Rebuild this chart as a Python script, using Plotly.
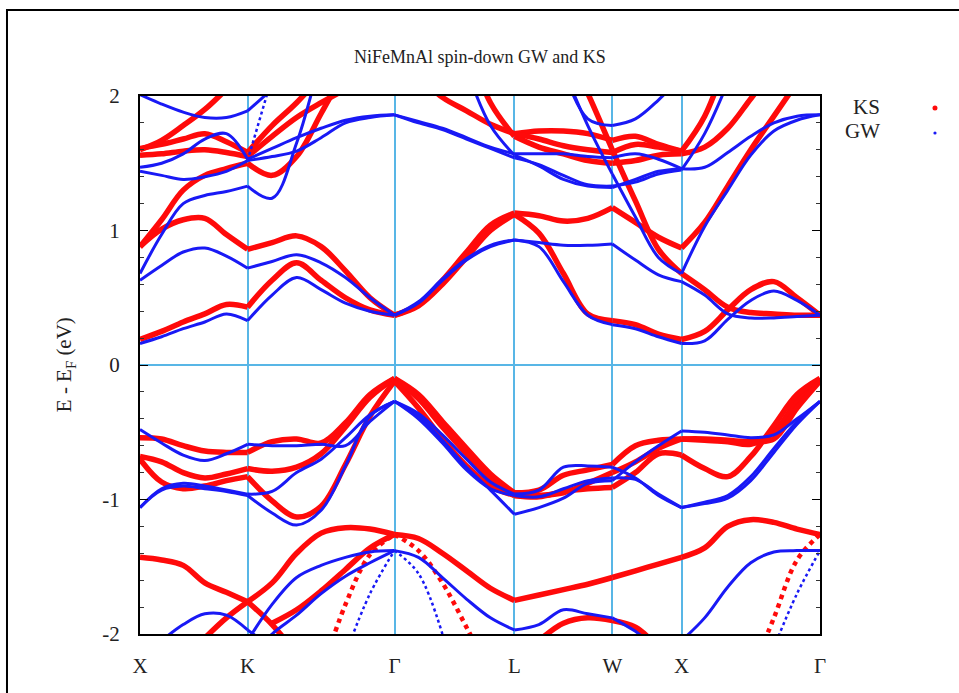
import plotly.graph_objects as go

N = None

# k-path sample positions (path length) and high-symmetry labels
K_GRID = [0.000, 0.156, 0.312, 0.468, 0.624, 0.777,
          0.954, 1.131, 1.308, 1.484, 1.661, 1.838,
          2.011, 2.184, 2.358, 2.531, 2.704,
          2.881, 3.058, 3.234, 3.411,
          3.578, 3.744, 3.911,
          4.078, 4.245, 4.411, 4.578, 4.745, 4.911]
SYM_K = [0.0, 0.777, 1.838, 2.704, 3.411, 3.911, 4.911]
SYM_LABELS = ["X", "K", "Γ", "L", "W", "X", "Γ"]
SEGMENTS = [(0, 5), (5, 11), (11, 16), (16, 20), (20, 23), (23, 29)]

Y_TICKS = [-2, -1, 0, 1, 2]
Y_TICK_TEXT = ["-2", "-1", "0", "1", "2"]

# ---------------- KS (red) bands, eV ----------------
KS_C1 = [0.19, 0.25, 0.32, 0.38, 0.45, 0.43, 0.63, 0.76, 0.63, 0.50, 0.41, 0.37,
         0.44, 0.60, 0.80, 1.00, 1.12, 0.98, 0.68, 0.38, 0.33, 0.30, 0.23, 0.19,
         0.25, 0.41, 0.56, 0.62, 0.50, 0.37]
KS_C2 = [0.88, 1.01, 1.08, 1.09, 0.97, 0.86, 0.91, 0.96, 0.88, 0.70, 0.50, 0.37,
         0.45, 0.63, 0.84, 1.04, 1.13, 1.11, 1.07, 1.09, 1.17, 1.06, 0.95, 0.87,
         1.06, 1.33, 1.60, 1.85, 2.10, 2.35]
KS_C3 = [0.88, 1.08, 1.30, 1.41, 1.46, 1.50, 1.41, 1.55, 1.87, 2.20, N, N,
         N, N, N, N, N, N, N, N, N, N, N, N, N, N, N, N, N, N]
KS_C4 = [N, N, N, N, N, N, N, N, N, N, N, N, N, N, N, N, N,
         N, 2.40, 2.02, 1.60, 1.22, 0.86, 0.68, 0.56, 0.43, 0.39, 0.38, 0.37, 0.37]
KS_U1 = [1.61, 1.64, 1.68, 1.72, 1.66, 1.58, 1.78, 1.95, 2.15, N, N, N,
         N, N, N, N, N, N, N, N, N, N, N, N, N, N, N, N, N, N]
KS_U2 = [1.56, 1.57, 1.59, 1.60, 1.58, 1.55, 1.70, 1.84, 1.95, 2.05, N, N,
         N, N, N, N, N, N, N, N, N, N, N, N, N, N, N, N, N, N]
KS_U3 = [1.60, 1.67, 1.78, 1.90, 2.05, 2.20, N, N, N, N, N, N,
         N, N, N, N, N, N, N, N, N, N, N, N, N, N, N, N, N, N]
KS_U4 = [N, N, N, N, N, N, N, N, N, N, N, N,
         2.15, 1.99, 1.89, 1.79, 1.72, 1.74, 1.74, 1.72, 1.67, 1.70, 1.64, 1.59,
         1.85, 2.30, N, N, N, N]
KS_U5 = [N, N, N, N, N, N, N, N, N, N, N, N,
         N, N, 2.40, 1.95, 1.70, 1.62, 1.57, 1.52, 1.50, 1.52, 1.56, 1.57,
         1.62, 1.76, 1.98, 2.20, N, N]
KS_U6 = [N, N, N, N, N, N, N, N, N, N, N, N,
         N, N, N, N, 1.72, 1.68, 1.63, 1.60, 1.58, 1.64, 1.62, 1.59,
         N, N, N, N, N, N]
KS_V1 = [-0.54, -0.55, -0.60, -0.64, -0.65, -0.65, -0.57, -0.55, -0.58, -0.43, -0.22, -0.10,
         -0.22, -0.42, -0.62, -0.81, -0.95, -0.93, -0.82, -0.78, -0.74, -0.60, -0.56, -0.55,
         -0.56, -0.57, -0.59, -0.50, -0.27, -0.10]
KS_V2 = [-0.68, -0.72, -0.80, -0.84, -0.81, -0.77, -0.79, -0.76, -0.66, -0.46, -0.24, -0.10,
         -0.25, -0.46, -0.66, -0.85, -0.97, -0.98, -0.94, -0.92, -0.91, -0.80, -0.66, -0.67,
         -0.77, -0.83, -0.68, -0.45, -0.22, -0.10]
KS_V3 = [-0.70, -0.87, -0.92, -0.90, -0.86, -0.83, -1.01, -1.13, -1.05, -0.74, -0.38, -0.12,
         -0.32, -0.55, -0.75, -0.90, -0.97, -0.97, -0.95, -0.88, -0.80, -0.72, -0.62, -0.55,
         -0.55, -0.56, -0.57, -0.55, -0.32, -0.12]
KS_L1 = [-1.43, -1.45, -1.49, -1.62, -1.69, -1.76, -1.93, -2.15, N, N, N, N,
         N, N, N, N, N, N, N, N, N, N, N, N, N, N, N, N, N, N]
KS_L2 = [N, N, N, -2.03, -1.88, -1.76, -1.62, -1.40, -1.25, -1.21, -1.22, -1.26,
         -1.29, -1.40, -1.53, -1.66, -1.75, -1.71, -1.67, -1.63, -1.58, -1.53, -1.48, -1.43,
         -1.36, -1.20, -1.15, -1.17, -1.22, -1.26]
KS_L3 = [N, N, N, N, N, N, -1.92, -1.82, -1.68, -1.52, -1.36, -1.26,
         N, N, N, N, N, N, N, N, N, N, N, N, N, N, N, N, N, N]
KS_L4 = [N, N, N, N, N, N, N, N, N, N, N, N, N, N, N, N, N,
         -2.05, -1.92, -1.88, -1.90, -1.95, -2.10, N, N, N, N, N, N, N]
KS_S1 = [N, N, N, N, N, N, N, N, -2.30, -1.78, -1.41, -1.26,
         N, N, N, N, N, N, N, N, N, N, N, N, N, N, N, N, N, N]
KS_S2 = [N, N, N, N, N, N, N, N, N, N, N, N, N, N, N, N, N, N, N, N, N, N, N, N,
         N, N, -2.30, -1.88, -1.45, -1.26]
KS_S3 = [N, N, N, N, N, N, N, N, N, N, N, -1.26,
         -1.38, -1.62, -1.95, -2.30, N, N, N, N, N, N, N, N, N, N, N, N, N, N]

# ---------------- GW (blue) bands, eV ----------------
GW_C1 = [0.16, 0.21, 0.27, 0.32, 0.38, 0.33, 0.52, 0.65, 0.56, 0.46, 0.40, 0.37,
         0.46, 0.63, 0.78, 0.88, 0.93, 0.88, 0.62, 0.37, 0.30, 0.27, 0.21, 0.16,
         0.18, 0.34, 0.48, 0.55, 0.48, 0.37]
GW_C2 = [0.63, 0.74, 0.84, 0.87, 0.81, 0.72, 0.77, 0.82, 0.76, 0.65, 0.50, 0.37,
         0.47, 0.64, 0.79, 0.89, 0.93, 0.91, 0.89, 0.89, 0.90, 0.78, 0.67, 0.62,
         0.52, 0.38, 0.35, 0.35, 0.36, 0.37]
GW_C3 = [0.68, 0.97, 1.20, 1.26, 1.29, 1.33, 1.24, 1.65, 2.30, N, N, N,
         N, N, N, N, N, N, N, N, N, N, N, N, N, N, N, N, N, N]
GW_C4 = [N, N, N, N, N, N, N, N, N, N, N, N, N, N, N, N, N,
         N, 2.20, 1.78, 1.42, 1.10, 0.80, 0.68, 1.03, 1.30, 1.56, 1.74, 1.82, 1.86]
GW_T1 = [2.01, 1.94, 1.88, 1.84, 1.84, 1.89, 2.05, N, N, N, N, N,
         N, N, N, N, N, N, N, N, N, N, N, N, N, N, N, N, N, N]
GW_T2 = [1.47, 1.50, 1.57, 1.68, 1.72, 1.53, 1.61, 1.69, 1.76, 1.82, 1.85, 1.86,
         N, N, N, N, N, N, N, N, N, N, N, N, N, N, N, N, N, N]
GW_T3 = [1.44, 1.41, 1.38, 1.40, 1.44, 1.52, 1.55, 1.59, 1.69, 1.80, 1.84, 1.86,
         N, N, N, N, N, N, N, N, N, N, N, N, N, N, N, N, N, N]
GW_U1 = [N, N, N, N, N, N, N, N, N, N, N, 1.86,
         1.81, 1.76, 1.69, 1.62, 1.57, 1.57, 1.57, 1.55, 1.54, 1.57, 1.53, 1.46,
         1.47, 1.58, 1.70, 1.80, 1.85, 1.86]
GW_U2 = [N, N, N, N, N, N, N, N, N, N, N, 1.86,
         1.80, 1.75, 1.68, 1.61, 1.54, 1.49, 1.41, 1.34, 1.33, 1.36, 1.42, 1.45,
         1.72, 2.10, N, N, N, N]
GW_U3 = [N, N, N, N, N, N, N, N, N, N, N, N,
         N, N, 2.20, 1.78, 1.56, 1.48, 1.38, 1.33, 1.32, 1.38, 1.44, 1.46,
         N, N, N, N, N, N]
GW_U4 = [N, N, N, N, N, N, N, N, N, N, N, N, N, N, N, N, N,
         N, 2.20, 1.83, 1.78, 1.83, 1.97, 2.15, N, N, N, N, N, N]
GW_T5 = [N, N, N, N, N, 1.52, 2.14, N, N, N, N, N,
         N, N, N, N, N, N, N, N, N, N, N, N, N, N, N, N, N, N]
GW_V1 = [-0.48, -0.58, -0.67, -0.71, -0.66, -0.59, -0.60, -0.60, -0.59, -0.60, -0.42, -0.27,
         -0.36, -0.52, -0.70, -0.87, -0.96, -0.93, -0.76, -0.75, -0.76, -0.84, -0.97, -1.06,
         -1.02, -0.97, -0.83, -0.62, -0.42, -0.27]
GW_V2 = [-1.06, -0.92, -0.88, -0.90, -0.93, -0.96, -0.94, -0.80, -0.70, -0.54, -0.37, -0.27,
         -0.38, -0.56, -0.76, -0.93, -1.11, -1.06, -0.99, -0.88, -0.86, -0.72, -0.60, -0.49,
         -0.50, -0.52, -0.54, -0.52, -0.40, -0.27]
GW_V3 = [-1.06, -0.93, -0.90, -0.92, -0.94, -0.97, -1.10, -1.19, -1.08, -0.75, -0.38, -0.27,
         -0.40, -0.58, -0.78, -0.92, -0.97, -0.98, -0.92, -0.86, -0.84, -0.85, -0.96, -1.06,
         -1.03, -0.99, -0.86, -0.65, -0.44, -0.27]
GW_L1 = [N, N, N, N, N, -2.05, -1.78, -1.58, -1.49, -1.43, -1.39, -1.38,
         -1.43, -1.58, -1.74, -1.88, -1.97, -1.93, -1.82, -1.85, -1.88, -1.98, -2.10, -2.05,
         -1.88, -1.65, -1.47, -1.39, -1.38, -1.38]
GW_L2 = [N, N, N, N, N, -2.20, -2.00, -1.86, -1.70, -1.57, -1.47, -1.38,
         N, N, N, N, N, N, N, N, N, N, N, N, N, N, N, N, N, N]
GW_L3 = [N, -2.05, -1.93, -1.85, -1.86, -1.97, -2.10, N, N, N, N, N,
         N, N, N, N, N, N, N, N, N, N, N, N, N, N, N, N, N, N]
GW_S1 = [N, N, N, N, N, N, N, N, N, -2.15, -1.70, -1.38,
         N, N, N, N, N, N, N, N, N, N, N, N, N, N, N, N, N, N]
GW_S2 = [N, N, N, N, N, N, N, N, N, N, N, N, N, N, N, N, N, N, N, N, N, N, N, N,
         N, N, N, -2.10, -1.70, -1.38]
GW_S3 = [N, N, N, N, N, N, N, N, N, N, N, -1.38,
         -1.55, -2.00, N, N, N, N, N, N, N, N, N, N, N, N, N, N, N, N]

KS_SOLID = [KS_C1, KS_C2, KS_C3, KS_C4, KS_U1, KS_U2, KS_U3, KS_U4, KS_U5, KS_U6,
            KS_V1, KS_V2, KS_V3, KS_L1, KS_L2, KS_L3, KS_L4]
KS_DOTTED = [KS_S1, KS_S2, KS_S3]
GW_SOLID = [GW_C1, GW_C2, GW_C3, GW_C4, GW_T1, GW_T2, GW_T3, GW_U1, GW_U2, GW_U3, GW_U4,
            GW_V1, GW_V2, GW_V3, GW_L1, GW_L2, GW_L3]
GW_DOTTED = [GW_T5, GW_S1, GW_S2, GW_S3]

RED = "rgb(255,10,10)"
BLUE = "rgb(25,25,245)"
GRIDC = "#58b6e6"
FONT = "Liberation Serif"


def segmented(band):
    xs, ys = [], []
    for a, b in SEGMENTS:
        for i in range(a, b + 1):
            xs.append(K_GRID[i])
            ys.append(band[i])
        xs.append(None)
        ys.append(None)
    return xs, ys


fig = go.Figure()


def add_band(band, color, width, dash="solid"):
    xs, ys = segmented(band)
    fig.add_trace(go.Scatter(x=xs, y=ys, mode="lines", connectgaps=False,
                             line=dict(color=color, width=width, shape="spline", dash=dash),
                             showlegend=False, hoverinfo="skip"))


for b in KS_SOLID:
    add_band(b, RED, 5.5)
for b in KS_DOTTED:
    add_band(b, RED, 4.5, "dot")
for b in GW_SOLID:
    add_band(b, BLUE, 3)
for b in GW_DOTTED:
    add_band(b, BLUE, 2.5, "dot")

minor_vals = [v / 10 for v in range(-18, 20, 2) if v % 10 != 0]

fig.update_layout(
    width=959, height=693,
    margin=dict(l=140, r=139, t=96, b=59),
    paper_bgcolor="white", plot_bgcolor="white",
    font=dict(family=FONT, size=20, color="#222"),
    xaxis=dict(range=[0, 4.911], tickmode="array", tickvals=SYM_K, ticktext=SYM_LABELS,
               showgrid=True, gridcolor=GRIDC, gridwidth=1.5, ticks="",
               showline=True, linecolor="black", linewidth=2, mirror=True,
               zeroline=False, ticklabelstandoff=12,
               tickfont=dict(family=FONT, size=21, color="#222")),
    yaxis=dict(range=[-2, 2], tickmode="array", tickvals=Y_TICKS, ticktext=Y_TICK_TEXT,
               ticks="inside", ticklen=8, tickwidth=1.2, tickcolor="black",
               minor=dict(tickmode="array", tickvals=minor_vals, ticks="inside",
                          ticklen=4, tickcolor="#333", showgrid=False),
               showgrid=False, zeroline=True, zerolinecolor=GRIDC, zerolinewidth=1.5,
               showline=True, linecolor="black", linewidth=2, mirror="ticks",
               ticklabelstandoff=14,
               tickfont=dict(family=FONT, size=21, color="#222")),
)

fig.add_annotation(text="NiFeMnAl spin-down GW and KS", xref="paper", yref="paper",
                   x=0.5, y=1.0725, xanchor="center", yanchor="middle", showarrow=False,
                   font=dict(family=FONT, size=18, color="#222"))
fig.add_annotation(text="E - E<sub>F</sub> (eV)", xref="paper", yref="paper",
                   x=-0.11, y=0.5, xanchor="center", yanchor="middle", textangle=-90,
                   showarrow=False, font=dict(family=FONT, size=21, color="#222"))
fig.add_annotation(text="KS", xref="paper", yref="paper", x=1.0912, y=0.9796,
                   xanchor="right", yanchor="middle", showarrow=False,
                   font=dict(family=FONT, size=21, color="#222"))
fig.add_annotation(text="GW", xref="paper", yref="paper", x=1.0912, y=0.935,
                   xanchor="right", yanchor="middle", showarrow=False,
                   font=dict(family=FONT, size=21, color="#222"))

fig.add_shape(type="circle", xref="paper", yref="paper", xsizemode="pixel", ysizemode="pixel",
              xanchor=1.1691, yanchor=0.9777, x0=-2.5, x1=2.5, y0=-2.5, y1=2.5,
              fillcolor=RED, line=dict(width=0))
fig.add_shape(type="circle", xref="paper", yref="paper", xsizemode="pixel", ysizemode="pixel",
              xanchor=1.1691, yanchor=0.9312, x0=-1.6, x1=1.6, y0=-1.6, y1=1.6,
              fillcolor=BLUE, line=dict(width=0))
# outer frame
fig.add_shape(type="rect", xref="paper", yref="paper", x0=-0.1956, x1=2, y0=-1, y1=1.1599,
              line=dict(color="black", width=2), fillcolor="rgba(0,0,0,0)", layer="below")

fig.write_html("out.html")
